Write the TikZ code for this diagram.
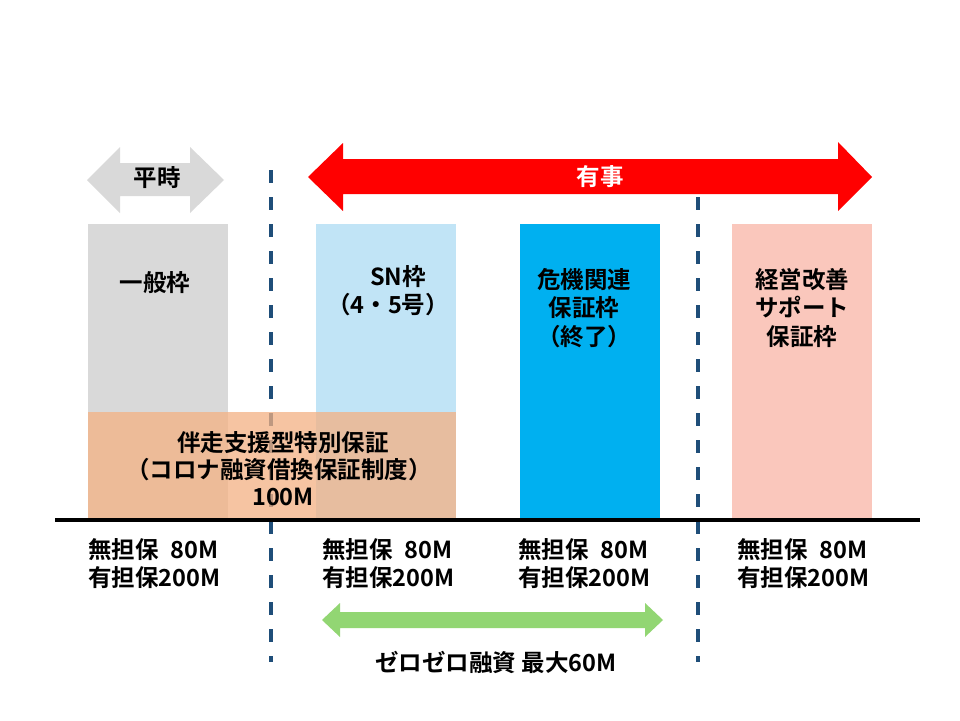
\documentclass[tikz,border=0pt]{standalone}
\usepackage{fontspec}
\setmainfont{Noto Sans CJK JP}[BoldFont={Noto Sans CJK JP Bold}]
\definecolor{boxgray}{RGB}{217,217,217}
\definecolor{snblue}{RGB}{193,228,246}
\definecolor{kikiblue}{RGB}{0,176,240}
\definecolor{pinkbox}{RGB}{250,199,188}
\definecolor{orangebox}{RGB}{244,177,131}
\definecolor{dashcol}{RGB}{31,78,121}
\definecolor{greenarr}{RGB}{146,214,115}
\definecolor{redarr}{RGB}{255,0,0}
\tikzset{
  txt/.style={font=\fontsize{23.5}{28.5}\selectfont\bfseries, inner sep=0pt, align=center},
  ltxt/.style={font=\fontsize{23.5}{28.5}\selectfont\bfseries, inner sep=0pt, anchor=west},
  divider/.style={draw=dashcol, line width=3.5pt, dash pattern=on 13pt off 14pt},
}
\begin{document}
\begin{tikzpicture}[x=1pt,y=-1pt]
\useasboundingbox (0,0) rectangle (960,720);
\fill[white] (0,0) rectangle (960,720);
% boxes
\node[fill=boxgray, minimum width=140pt, minimum height=294pt, inner sep=0pt, anchor=north west] (gen) at (88,224) {};
\node[fill=snblue, minimum width=140pt, minimum height=294pt, inner sep=0pt, anchor=north west] (sn) at (316,224) {};
\node[fill=kikiblue, minimum width=140pt, minimum height=294pt, inner sep=0pt, anchor=north west] (kiki) at (520,224) {};
\node[fill=pinkbox, minimum width=140pt, minimum height=294pt, inner sep=0pt, anchor=north west] (keiei) at (732,224) {};
% dividers
\coordinate (d1a) at (271,170); \coordinate (d1b) at (271,662);
\coordinate (d2a) at (698,197); \coordinate (d2b) at (698,662);
\draw[divider] (d1a) -- (d1b);
\draw[divider] (d2a) -- (d2b);
% orange box
\node[fill=orangebox, fill opacity=0.75, minimum width=368pt, minimum height=106pt, inner sep=0pt, anchor=north west] (bansou) at (88,412) {};
% arrows
\fill[boxgray] (87,180) -- (120,147) -- (120,163) -- (190,163) -- (190,147) -- (224,180) -- (190,213) -- (190,196) -- (120,196) -- (120,213) -- cycle;
\fill[redarr] (308,177) -- (343,143) -- (343,159) -- (838,159) -- (838,142) -- (872,177) -- (838,211) -- (838,194) -- (343,194) -- (343,211) -- cycle;
\fill[greenarr] (322,620) -- (340,603) -- (340,612) -- (645,612) -- (645,603) -- (663,620) -- (645,637) -- (645,628) -- (340,628) -- (340,637) -- cycle;
% base line
\coordinate (bl) at (55,520); \coordinate (br) at (920,520);
\draw[black, line width=3.5pt] (bl) -- (br);
% texts
\node[txt] (heiji) at (157,178) {平時};
\node[txt, text=white] (yuji) at (600,177) {有事};
\node[txt] (t1) at (155,283) {一般枠};
\node[txt] (t2a) at (398,277) {SN枠};
\node[txt] (t2b) at (388,305) {（4・5号）};
\node[txt] (t3) at (584,308) {危機関連\\保証枠\\（終了）};
\node[txt] (t4) at (802,308) {経営改善\\サポート\\保証枠};
\node[txt] (t5a) at (283,443) {伴走支援型特別保証};
\node[txt] (t5b) at (279,470) {（コロナ融資借換保証制度）};
\node[txt] (t5c) at (283,497) {100M};
\node[ltxt] (b1a) at (88,550) {無担保\hspace{12pt}80M};
\node[ltxt] (b1b) at (88,578) {有担保200M};
\node[ltxt] (b2a) at (322,550) {無担保\hspace{12pt}80M};
\node[ltxt] (b2b) at (322,578) {有担保200M};
\node[ltxt] (b3a) at (518,550) {無担保\hspace{12pt}80M};
\node[ltxt] (b3b) at (518,578) {有担保200M};
\node[ltxt] (b4a) at (737,550) {無担保\hspace{12pt}80M};
\node[ltxt] (b4b) at (737,578) {有担保200M};
\node[txt] (zero) at (496,662) {ゼロゼロ融資 最大60M};
\end{tikzpicture}
\end{document}
